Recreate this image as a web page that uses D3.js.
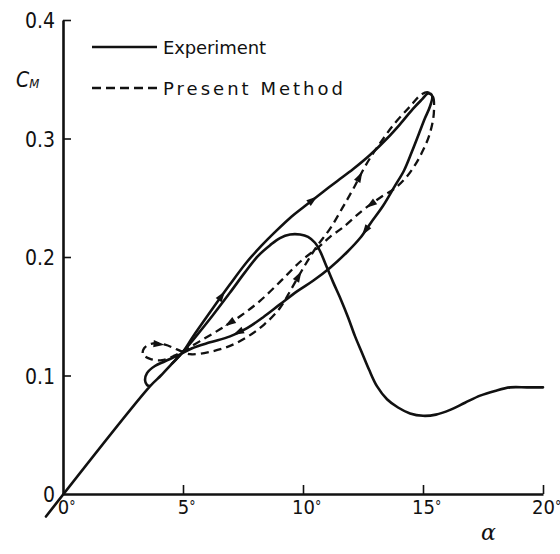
<!DOCTYPE html>
<html>
<head>
<meta charset="utf-8">
<script src="https://cdn.jsdelivr.net/npm/d3@7"></script>
<style>
  html, body { margin: 0; padding: 0; background: #fff; }
  svg { display: block; }
  text { font-family: "Liberation Sans Narrow", "DejaVu Sans Condensed", "Liberation Sans", sans-serif; fill: #111; }
</style>
</head>
<body>
<svg id="chart" width="560" height="554"></svg>
<script>
// ---- axis ticks ----
const xTicks = [0, 5, 10, 15, 20];
const yTicks = [0, 0.1, 0.2, 0.3, 0.4];
const yTickLabels = ["0", "0.1", "0.2", "0.3", "0.4"];
const seriesNames = ["Experiment", "Present Method"];

// ---- measured pitching loop (alpha in degrees, C_M), starting on the linear part ----
const experimentAlpha = [-0.71, 3.63, 4.08, 4.54, 5.00, 5.42, 6.25, 6.96, 7.67, 8.29, 8.83, 9.46, 10.08, 10.71,
  11.42, 12.08, 12.79, 13.50, 14.04, 14.58, 14.96, 15.21, 15.38, 15.29, 15.08, 14.83, 14.54, 14.21, 13.83,
  13.33, 12.83, 12.38, 11.83, 11.13, 10.42, 9.75, 9.04, 8.33, 7.67, 6.96, 6.13, 5.38, 4.79, 4.25, 3.83,
  3.50, 3.42, 3.50, 3.63];
const experimentCM = [-0.019, 0.091, 0.100, 0.110, 0.120, 0.133, 0.157, 0.177, 0.196, 0.210, 0.221, 0.233,
  0.243, 0.253, 0.264, 0.274, 0.286, 0.300, 0.312, 0.325, 0.333, 0.338, 0.336, 0.327, 0.317, 0.304, 0.289,
  0.273, 0.260, 0.243, 0.229, 0.216, 0.204, 0.191, 0.180, 0.171, 0.160, 0.149, 0.140, 0.133, 0.128, 0.123,
  0.117, 0.112, 0.108, 0.102, 0.096, 0.092, 0.091];

// ---- measured static curve ----
const staticAlpha = [4.54, 5.00, 5.54, 6.21, 6.96, 7.58, 8.13, 8.63, 9.04, 9.46, 9.88, 10.21, 10.50, 10.71,
  10.92, 11.25, 11.58, 11.88, 12.17, 12.46, 12.75, 13.08, 13.50, 13.96, 14.46, 15.00, 15.54, 16.13, 16.75,
  17.38, 18.00, 18.63, 19.33, 20.00];
const staticCM = [0.110, 0.120, 0.133, 0.150, 0.170, 0.187, 0.201, 0.210, 0.216, 0.219, 0.219, 0.217, 0.212,
  0.205, 0.195, 0.179, 0.164, 0.149, 0.133, 0.119, 0.105, 0.091, 0.080, 0.073, 0.068, 0.066, 0.067, 0.071,
  0.077, 0.083, 0.087, 0.090, 0.090, 0.090];

// ---- computed loop (present method), closed ----
const presentAlpha = [15.21, 15.42, 15.46, 15.42, 15.25, 15.00, 14.71, 14.33, 13.83, 13.21, 12.46, 11.67,
  11.13, 10.63, 9.88, 9.04, 8.21, 7.38, 6.54, 5.71, 5.13, 4.67, 4.13, 3.63, 3.33, 3.38, 3.71, 4.25, 4.75,
  5.29, 6.13, 6.96, 7.71, 8.38, 9.04, 9.54, 10.08, 10.58, 11.13, 11.63, 12.08, 12.63, 13.21, 13.83, 14.46,
  14.92];
const presentCM = [0.339, 0.335, 0.326, 0.316, 0.302, 0.290, 0.279, 0.268, 0.258, 0.250, 0.239, 0.225,
  0.217, 0.208, 0.196, 0.179, 0.163, 0.150, 0.139, 0.129, 0.122, 0.117, 0.113, 0.114, 0.118, 0.123, 0.127,
  0.126, 0.122, 0.118, 0.120, 0.125, 0.133, 0.143, 0.157, 0.174, 0.193, 0.209, 0.224, 0.241, 0.257, 0.278,
  0.296, 0.313, 0.327, 0.337];

// segment indices that carry a direction arrow
const experimentArrows = [6, 12, 30, 38];
const presentArrows = [9, 17, 26, 35, 40];

const svg = d3.select("#chart");
const x = d3.scaleLinear().domain([0, 20]).range([63, 543]);
const y = d3.scaleLinear().domain([0, 0.4]).range([494, 20]);

const zip = (a, b) => a.map((v, i) => [v, b[i]]);
const experiment = zip(experimentAlpha, experimentCM);
const staticCurve = zip(staticAlpha, staticCM);
const present = zip(presentAlpha, presentCM);

const line = d3.line().x(d => x(d[0])).y(d => y(d[1])).curve(d3.curveCatmullRom.alpha(0.5));
const loop = d3.line().x(d => x(d[0])).y(d => y(d[1])).curve(d3.curveCatmullRomClosed.alpha(0.5));

// ---- axes ----
const yAxis = svg.append("g")
  .attr("transform", `translate(${x(0)},0)`)
  .call(d3.axisLeft(y).tickValues(yTicks).tickFormat((d, i) => yTickLabels[i])
    .tickSizeInner(-8).tickSizeOuter(0).tickPadding(8));
yAxis.select(".domain").attr("stroke", "#111").attr("stroke-width", 2.6);
yAxis.selectAll(".tick line").attr("stroke", "#111").attr("stroke-width", 1.6);
yAxis.selectAll(".tick text").attr("font-size", 21).attr("dy", "0.36em");
yAxis.selectAll(".tick").filter(d => d === 0).select("line").remove();

const xAxis = svg.append("g")
  .attr("transform", `translate(0,${y(0)})`)
  .call(d3.axisBottom(x).tickValues(xTicks).tickFormat(d => String(d))
    .tickSizeInner(-9).tickSizeOuter(0).tickPadding(6));
xAxis.select(".domain").attr("stroke", "#111").attr("stroke-width", 2.6);
xAxis.selectAll(".tick line").attr("stroke", "#111").attr("stroke-width", 1.6);
xAxis.selectAll(".tick").filter(d => d === 0).select("line").remove();
xAxis.selectAll(".tick text").attr("font-size", 20).each(function () {
  const t = d3.select(this);
  const w = this.getComputedTextLength();
  t.attr("text-anchor", "start").attr("x", -w / 2);
  t.append("tspan").attr("font-size", 14).attr("dy", "-0.25em").text("°");
});

// ---- axis titles ----
const cm = svg.append("text").attr("x", 16).attr("y", 87)
  .attr("font-size", 21).style("font-style", "italic");
cm.append("tspan").text("C");
cm.append("tspan").attr("font-size", 13).attr("dy", "1").text("M");

svg.append("text").attr("x", 481).attr("y", 540)
  .attr("font-size", 22).style("font-style", "italic")
  .style("font-family", "'DejaVu Serif', serif").text("α");

// ---- curves ----
svg.append("path").datum(experiment).attr("d", line)
  .attr("fill", "none").attr("stroke", "#111").attr("stroke-width", 2.6)
  .attr("stroke-linejoin", "round").attr("stroke-linecap", "round");

svg.append("path").datum(staticCurve).attr("d", line)
  .attr("fill", "none").attr("stroke", "#111").attr("stroke-width", 2.6)
  .attr("stroke-linejoin", "round").attr("stroke-linecap", "round");

svg.append("path").datum(present).attr("d", loop)
  .attr("fill", "none").attr("stroke", "#111").attr("stroke-width", 2.3)
  .attr("stroke-dasharray", "8,5");

// ---- direction arrows ----
function arrows(points, idx) {
  svg.append("g").selectAll("path").data(idx).join("path")
    .attr("d", "M6,0L-5,-3.6L-5,3.6Z")
    .attr("fill", "#111")
    .attr("transform", i => {
      const a = points[i], b = points[(i + 1) % points.length];
      const x0 = x(a[0]), y0 = y(a[1]), x1 = x(b[0]), y1 = y(b[1]);
      const ang = Math.atan2(y1 - y0, x1 - x0) * 180 / Math.PI;
      return `translate(${(x0 + x1) / 2},${(y0 + y1) / 2}) rotate(${ang})`;
    });
}
arrows(experiment, experimentArrows);
arrows(present, presentArrows);

// ---- legend ----
const legend = svg.append("g");
legend.append("line").attr("x1", 92).attr("x2", 157).attr("y1", 47).attr("y2", 47)
  .attr("stroke", "#111").attr("stroke-width", 2.6);
legend.append("line").attr("x1", 92).attr("x2", 157).attr("y1", 88).attr("y2", 88)
  .attr("stroke", "#111").attr("stroke-width", 2.3).attr("stroke-dasharray", "9,5");
legend.append("text").attr("x", 163).attr("y", 54).attr("font-size", 18)
  .style("font-family", "'DejaVu Sans', sans-serif")
  .attr("textLength", 103).attr("lengthAdjust", "spacing").text(seriesNames[0]);
legend.append("text").attr("x", 163).attr("y", 95).attr("font-size", 18)
  .style("font-family", "'DejaVu Sans', sans-serif")
  .attr("textLength", 180).attr("lengthAdjust", "spacing").text(seriesNames[1]);
</script>
</body>
</html>
